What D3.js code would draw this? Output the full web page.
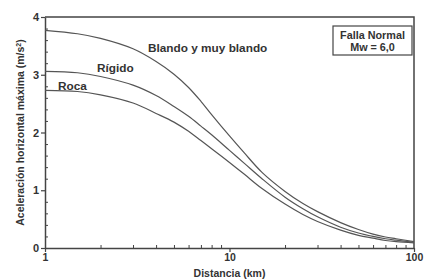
<!DOCTYPE html>
<html>
<head>
<meta charset="utf-8">
<script src="https://cdn.jsdelivr.net/npm/d3@7"></script>
<style>
  body { margin: 0; background: #fff; }
  svg text { font-family: "Liberation Sans", Arial, sans-serif; font-weight: bold; fill: #333; }
</style>
</head>
<body>
<div id="chart"></div>
<script>
const distances = [1, 1.5, 2, 3, 4, 5, 6, 7, 8, 10, 12, 15, 20, 25, 30, 40, 50, 60, 70, 80, 100];
const blando = [3.77, 3.71, 3.63, 3.45, 3.23, 3.01, 2.78, 2.54, 2.31, 1.94, 1.65, 1.31, 0.98, 0.77, 0.63, 0.44, 0.32, 0.24, 0.19, 0.16, 0.11];
const rigido = [3.06, 3.035, 2.97, 2.82, 2.64, 2.45, 2.28, 2.11, 1.96, 1.69, 1.47, 1.20, 0.88, 0.68, 0.54, 0.36, 0.26, 0.20, 0.16, 0.135, 0.10];
const roca   = [2.73, 2.71, 2.65, 2.51, 2.33, 2.18, 2.02, 1.86, 1.72, 1.48, 1.28, 1.03, 0.76, 0.58, 0.46, 0.31, 0.22, 0.17, 0.13, 0.11, 0.09];
const xTicks = [1, 10, 100];
const yTicks = [0, 1, 2, 3, 4];

const W = 427, H = 279;
const margin = {top: 17, right: 13, bottom: 31, left: 45};

const svg = d3.select("#chart").append("svg")
  .attr("width", W).attr("height", H);

const x = d3.scaleLog().domain([1, 100]).range([margin.left, W - margin.right]);
const y = d3.scaleLinear().domain([0, 4]).range([H - margin.bottom, margin.top]);

const axisColor = "#444";

// minor ticks, pointing inward
const xMinor = [];
for (let dec = 1; dec < 100; dec *= 10) for (let k = 2; k <= 9; k++) xMinor.push(dec * k);
svg.append("g").attr("transform", `translate(0,${y(0)})`)
  .call(d3.axisBottom(x).tickValues(xMinor).tickSize(-3).tickFormat(""))
  .call(g => g.select(".domain").remove())
  .call(g => g.selectAll("line").attr("stroke", axisColor));

const yMinor = d3.range(0, 4.01, 0.2).filter(v => Math.abs(v - Math.round(v)) > 0.01);
svg.append("g").attr("transform", `translate(${x(1)},0)`)
  .call(d3.axisLeft(y).tickValues(yMinor).tickSize(-3).tickFormat(""))
  .call(g => g.select(".domain").remove())
  .call(g => g.selectAll("line").attr("stroke", axisColor));

// major axes
const xAxis = svg.append("g").attr("transform", `translate(0,${y(0)})`)
  .call(d3.axisBottom(x).tickValues(xTicks).tickSize(4).tickPadding(2).tickSizeOuter(0).tickFormat(d3.format("d")));
xAxis.selectAll("text").attr("font-size", 10.5);

const yAxis = svg.append("g").attr("transform", `translate(${x(1)},0)`)
  .call(d3.axisLeft(y).tickValues(yTicks).tickSize(4).tickPadding(2).tickSizeOuter(0).tickFormat(d3.format("d")));
yAxis.selectAll("text").attr("font-size", 11);

[xAxis, yAxis].forEach(a => {
  a.select(".domain").attr("stroke", axisColor).attr("stroke-width", 1.5);
  a.selectAll(".tick line").attr("stroke", axisColor).attr("stroke-width", 1.2);
  a.selectAll("text").style("fill", "#333");
});

// top / right frame
svg.append("path")
  .attr("d", `M${x(1)},${y(4)}H${x(100)}V${y(0)}`)
  .attr("fill", "none").attr("stroke", axisColor).attr("stroke-width", 1.5);

// curves
const line = d3.line()
  .x((d, i) => x(distances[i]))
  .y(d => y(d))
  .curve(d3.curveCatmullRom.alpha(0.5));

[blando, rigido, roca].forEach(s => {
  svg.append("path").attr("d", line(s))
    .attr("fill", "none").attr("stroke", "#555").attr("stroke-width", 1.2);
});

// curve labels
svg.append("text").attr("x", 148).attr("y", 52).attr("font-size", 11.8).text("Blando y muy blando");
svg.append("text").attr("x", 97).attr("y", 72).attr("font-size", 11.8).text("Rígido");
svg.append("text").attr("x", 58).attr("y", 90).attr("font-size", 11.8).text("Roca");

// legend box
svg.append("rect").attr("x", 333).attr("y", 26).attr("width", 79).attr("height", 29)
  .attr("fill", "#fff").attr("stroke", axisColor).attr("stroke-width", 1.2);
svg.append("text").attr("x", 372.5).attr("y", 39).attr("text-anchor", "middle").attr("font-size", 10.8).text("Falla Normal");
svg.append("text").attr("x", 372.5).attr("y", 51).attr("text-anchor", "middle").attr("font-size", 10.8).text("Mw = 6,0");

// axis titles
svg.append("text").attr("x", x(10)).attr("y", 277).attr("text-anchor", "middle")
  .attr("font-size", 10.5).text("Distancia (km)");
svg.append("text")
  .attr("transform", `translate(24,${(y(0) + y(4)) / 2}) rotate(-90)`)
  .attr("text-anchor", "middle").attr("font-size", 10.5)
  .html('Aceleración horizontal máxima (m/s<tspan baseline-shift="super" font-size="7">2</tspan>)');
</script>
</body>
</html>
